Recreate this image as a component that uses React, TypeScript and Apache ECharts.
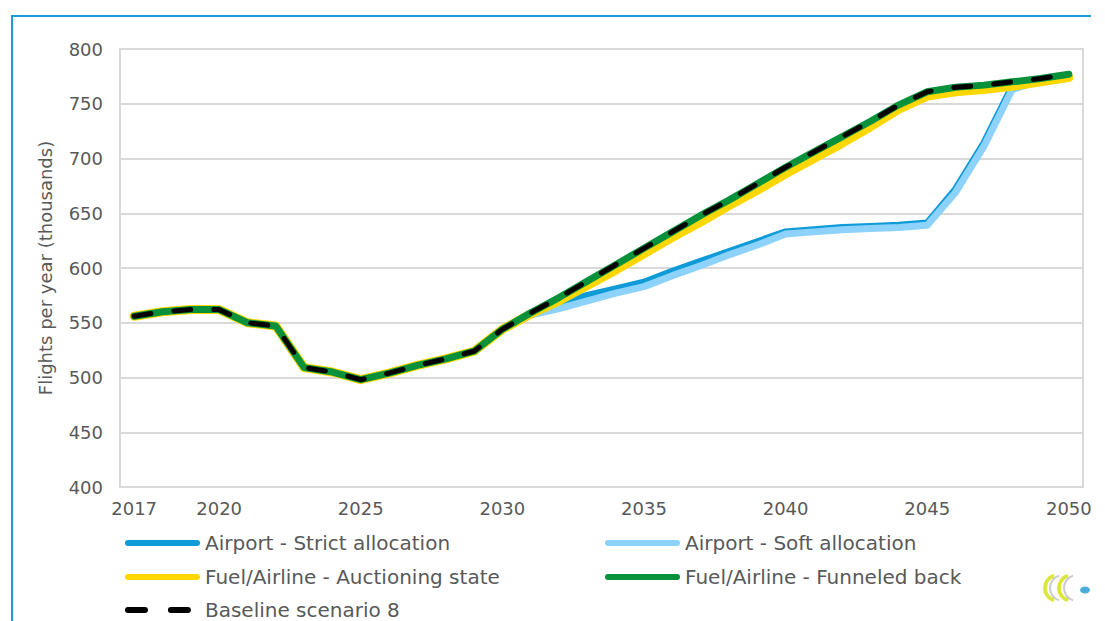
import React, { useEffect, useRef } from "react";
import * as echarts from "echarts";

const years = [
  "2017", "2018", "2019", "2020", "2021", "2022", "2023", "2024", "2025", "2026",
  "2027", "2028", "2029", "2030", "2031", "2032", "2033", "2034", "2035", "2036",
  "2037", "2038", "2039", "2040", "2041", "2042", "2043", "2044", "2045", "2046",
  "2047", "2048", "2049", "2050",
];

const airportStrict = [
  556, 560, 562, 562, 550, 547, 509, 505, 498, 504,
  511, 517, 524, 544, 559, 567, 575, 581, 587, 597,
  606, 615, 624, 633, 635, 637, 638, 639, 641, 672,
  714, 766, 772, 776,
];

const airportSoft = [
  556, 560, 562, 562, 550, 547, 509, 505, 498, 504,
  511, 517, 524, 544, 557, 563, 570, 577, 583, 593,
  602, 612, 621, 631, 633, 635, 636, 637, 639, 669,
  711, 763, 771, 775,
];

const fuelAuctioning = [
  556, 560, 562, 562, 550, 547, 509, 505, 498, 504,
  511, 517, 524, 544, 558, 570, 584, 598, 613, 628,
  642, 657, 671, 686, 700, 714, 729, 745, 757, 761,
  763, 766, 770, 774,
];

const fuelFunneled = [
  556, 560, 562, 562, 550, 547, 509, 505, 498, 504,
  511, 517, 524, 544, 559, 573, 588, 603, 618, 633,
  648, 662, 677, 692, 706, 720, 734, 749, 761, 765,
  767, 770, 773, 777,
];

const baseline8 = [
  556, 560, 562, 562, 550, 547, 509, 505, 498, 504,
  511, 517, 524, 544, 559, 573, 588, 603, 618, 633,
  648, 662, 677, 692, 706, 720, 734, 749, 761, 765,
  767, 770, 773, 777,
];

const seriesNames = [
  "Airport - Strict allocation",
  "Airport - Soft allocation",
  "Fuel/Airline - Auctioning state",
  "Fuel/Airline - Funneled back",
  "Baseline scenario 8",
];

const labelYears = ["2017", "2020", "2025", "2030", "2035", "2040", "2045", "2050"];

const FONT = "DejaVu Sans";
const TEXT = "#595959";
const GRID = "#d9d9d9";

const SOLID_ICON = "path://M3,0H72A3,3 0 0 1 72,6H3A3,3 0 0 1 3,0Z";
const DASH_ICON =
  "path://M3,0H20A3,3 0 0 1 20,6H3A3,3 0 0 1 3,0Z M46,0H63A3,3 0 0 1 63,6H46A3,3 0 0 1 46,0Z M0,0H0.01V0.01H0Z M75,6H75.01V6.01H75Z";

export default function App() {
  const ref = useRef<HTMLDivElement>(null);

  useEffect(() => {
    if (!ref.current) return;
    const chart = echarts.init(ref.current, undefined, { renderer: "svg" });

    const mkLegend = (name: string, left: number, top: number, icon: string) => ({
      data: [{ name, icon }],
      left,
      top,
      padding: 0,
      itemWidth: 75,
      itemHeight: 6,
      itemGap: 5,
      selectedMode: false,
      textStyle: { fontFamily: FONT, fontSize: 20, color: TEXT, padding: [0, 0, 0, 0] },
    });

    const line = (name: string, data: number[], color: string, width: number, extra: any = {}) => ({
      name,
      type: "line",
      data,
      symbol: "none",
      showSymbol: false,
      lineStyle: { color, width, cap: "round", join: "round", ...extra },
      itemStyle: { color },
    });

    chart.setOption({
      animation: false,
      backgroundColor: "#ffffff",
      grid: {
        left: 120,
        right: 22,
        top: 49,
        bottom: 134,
        show: true,
        borderColor: GRID,
        borderWidth: 2,
      },
      legend: [
        mkLegend(seriesNames[0], 125, 533, SOLID_ICON),
        mkLegend(seriesNames[1], 605, 533, SOLID_ICON),
        mkLegend(seriesNames[2], 125, 567, SOLID_ICON),
        mkLegend(seriesNames[3], 605, 567, SOLID_ICON),
        mkLegend(seriesNames[4], 125, 600, DASH_ICON),
      ],
      xAxis: {
        type: "category",
        data: years,
        boundaryGap: true,
        axisTick: { show: false },
        axisLine: { show: true, lineStyle: { color: GRID, width: 2 } },
        axisLabel: {
          interval: (_i: number, v: string) => labelYears.indexOf(v) >= 0,
          fontFamily: FONT,
          fontSize: 18,
          color: TEXT,
          margin: 12,
        },
        splitLine: { show: false },
      },
      yAxis: {
        type: "value",
        min: 400,
        max: 800,
        interval: 50,
        name: "Flights per year (thousands)",
        nameLocation: "middle",
        nameRotate: 90,
        nameGap: 66,
        nameTextStyle: { fontFamily: FONT, fontSize: 18, color: TEXT },
        axisLine: { show: true, lineStyle: { color: GRID, width: 2 } },
        axisTick: { show: false },
        axisLabel: { fontFamily: FONT, fontSize: 18, color: TEXT, margin: 17 },
        splitLine: { show: true, lineStyle: { color: GRID, width: 2 } },
      },
      series: [
        line(seriesNames[0], airportStrict, "#0f9bd7", 7),
        line(seriesNames[1], airportSoft, "#8dd2fb", 7),
        line(seriesNames[2], fuelAuctioning, "#ffd700", 9),
        line(seriesNames[3], fuelFunneled, "#07913b", 7),
        line(seriesNames[4], baseline8, "#000000", 5, { type: [17, 23] }),
      ],
      graphic: [
        {
          type: "polyline",
          shape: { points: [[12, 621], [12, 16], [1091, 16]] },
          style: { stroke: "#1b9bd7", lineWidth: 2, fill: "none" },
          silent: true,
        },
        {
          type: "group",
          silent: true,
          children: [
            {
              type: "arc",
              shape: { cx: 1058, cy: 588, r: 13, startAngle: Math.PI * 0.6, endAngle: Math.PI * 1.4 },
              style: { stroke: "#d6e31c", lineWidth: 4, fill: "none", opacity: 0.85 },
            },
            {
              type: "arc",
              shape: { cx: 1072, cy: 588, r: 13, startAngle: Math.PI * 0.6, endAngle: Math.PI * 1.4 },
              style: { stroke: "#d6e31c", lineWidth: 4, fill: "none", opacity: 0.85 },
            },
            {
              type: "arc",
              shape: { cx: 1063, cy: 588, r: 13, startAngle: Math.PI * 0.6, endAngle: Math.PI * 1.4 },
              style: { stroke: "#b8b3b8", lineWidth: 2, fill: "none", opacity: 0.7 },
            },
            {
              type: "arc",
              shape: { cx: 1077, cy: 588, r: 13, startAngle: Math.PI * 0.6, endAngle: Math.PI * 1.4 },
              style: { stroke: "#b8b3b8", lineWidth: 2, fill: "none", opacity: 0.7 },
            },
            {
              type: "ellipse",
              shape: { cx: 1085, cy: 590, rx: 5, ry: 3.5 },
              style: { fill: "#2b9fd0", opacity: 0.85 },
            },
          ],
        },
      ],
    });

    return () => chart.dispose();
  }, []);

  return (
    <div
      ref={ref}
      style={{ position: "absolute", left: 0, top: 0, width: 1105, height: 621 }}
    />
  );
}
